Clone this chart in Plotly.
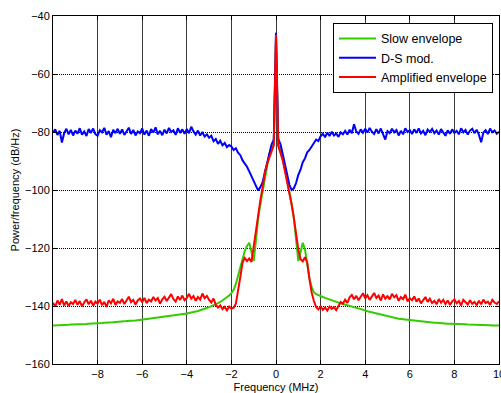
import numpy as np
import plotly.graph_objects as go

# Frequency grid (MHz), 0.1 MHz spacing from -10 to 10
freq_mhz = np.round(np.linspace(-10, 10, 201), 1)

# Power spectral densities (dB/Hz), one value per frequency bin
slow_envelope = [
    -146.7, -146.7, -146.6, -146.6, -146.6, -146.5, -146.5, -146.5, -146.4, -146.4,
    -146.4, -146.3, -146.3, -146.3, -146.2, -146.2, -146.1, -146.1, -146.0, -146.0,
    -146.0, -145.9, -145.9, -145.8, -145.8, -145.7, -145.7, -145.6, -145.5, -145.5,
    -145.4, -145.4, -145.3, -145.2, -145.2, -145.1, -145.0, -145.0, -144.9, -144.8,
    -144.7, -144.7, -144.6, -144.5, -144.4, -144.3, -144.2, -144.1, -144.0, -143.9,
    -143.8, -143.7, -143.6, -143.5, -143.4, -143.3, -143.1, -143.0, -142.9, -142.7,
    -142.6, -142.4, -142.3, -142.1, -141.9, -141.7, -141.5, -141.2, -141.0, -140.7,
    -140.4, -140.1, -139.8, -139.4, -139.0, -138.6, -138.1, -137.6, -137.0, -136.4,
    -135.6, -134.4, -132.4, -129.4, -126.2, -123.2, -121.0, -119.3, -118.2, -121.5,
    -124.5, -117.5, -109.8, -104.8, -100.3, -95.5, -91.8, -87.8, -85.8, -84.2,
    -47.0,
    -84.4, -86.2, -89.0, -92.8, -96.5, -100.5, -104.6, -109.5, -117.5, -124.5,
    -121.5, -118.2, -120.5, -126.0, -130.5, -133.5, -135.3, -135.9, -136.3, -136.6,
    -136.9, -137.2, -137.5, -137.8, -138.1, -138.4, -138.7, -138.9, -139.1, -139.3,
    -139.5, -139.8, -140.0, -140.2, -140.5, -140.7, -140.9, -141.1, -141.3, -141.5,
    -141.8, -142.0, -142.2, -142.4, -142.6, -142.8, -143.0, -143.2, -143.4, -143.6,
    -143.7, -143.9, -144.1, -144.2, -144.4, -144.5, -144.6, -144.7, -144.8, -144.9,
    -145.0, -145.1, -145.2, -145.3, -145.4, -145.4, -145.5, -145.6, -145.7, -145.7,
    -145.8, -145.8, -145.9, -145.9, -146.0, -146.0, -146.1, -146.1, -146.1, -146.2,
    -146.2, -146.2, -146.3, -146.3, -146.3, -146.4, -146.4, -146.4, -146.5, -146.5,
    -146.5, -146.5, -146.6, -146.6, -146.6, -146.6, -146.7, -146.7, -146.7, -146.7,
]

ds_mod = [
    -80.2, -79.1, -81.0, -79.6, -83.6, -80.4, -78.9, -80.8, -79.3, -81.2,
    -79.5, -80.6, -78.7, -80.9, -79.8, -81.4, -79.0, -80.3, -78.8, -80.7,
    -81.3, -79.4, -80.1, -78.6, -80.9, -79.7, -81.8, -79.2, -80.4, -78.9,
    -80.6, -79.1, -81.0, -79.9, -78.5, -80.7, -79.3, -81.2, -79.8, -80.4,
    -78.8, -80.9, -79.5, -81.3, -79.0, -80.2, -78.4, -80.8, -79.6, -81.1,
    -79.2, -80.5, -78.6, -80.0, -79.4, -81.0, -78.7, -80.3, -79.1, -80.6,
    -79.0, -80.4, -78.2, -79.8, -80.9, -79.5, -81.2, -80.0, -81.6, -80.8,
    -82.0, -81.3, -83.2, -82.4, -84.1, -83.0, -84.6, -83.8, -85.2, -84.5,
    -85.0, -86.2, -85.6, -87.1, -88.0, -89.8, -90.9, -92.0, -93.6, -95.4,
    -97.2, -98.4, -100.2, -99.0, -97.3, -94.0, -90.6, -87.2, -84.3, -82.6,
    -45.8,
    -82.4, -84.2, -87.6, -91.5, -95.3, -98.2, -100.0, -99.4, -97.6, -94.8,
    -93.0, -90.4, -89.1, -87.0, -86.2, -84.9, -84.0, -82.6, -83.1, -81.5,
    -80.6, -81.8, -80.2, -81.4, -79.9, -81.2, -80.5, -81.7, -80.1, -80.8,
    -79.6, -80.9, -79.2, -80.4, -77.3, -79.8, -80.6, -79.1, -80.3, -78.9,
    -80.2, -78.6, -79.9, -80.7, -79.0, -80.5, -78.8, -81.0, -82.6, -79.7,
    -80.4, -78.9, -80.1, -79.3, -81.2, -79.6, -80.8, -78.7, -80.0, -79.4,
    -80.7, -79.1, -80.3, -78.8, -80.5, -79.6, -81.1, -79.2, -80.0, -78.9,
    -80.4, -79.5, -80.9, -79.0, -80.2, -81.3, -79.4, -80.6, -79.1, -80.3,
    -79.6, -80.8, -78.7, -80.1, -79.3, -80.9, -79.5, -78.9, -80.4, -79.2,
    -81.0, -83.5, -80.2, -79.4, -80.7, -78.8, -80.1, -79.5, -80.6, -79.9,
]

amplified_envelope = [
    -138.9, -140.2, -138.1, -139.5, -137.6, -139.8, -138.4, -140.0, -138.7, -139.3,
    -137.9, -139.6, -138.3, -140.1, -138.8, -137.7, -139.4, -138.2, -139.9, -138.5,
    -139.2, -137.8, -139.7, -138.6, -140.3, -138.0, -139.1, -137.5, -139.6, -138.4,
    -138.9, -137.6, -139.3, -138.2, -136.8, -138.7, -137.9, -139.5, -138.1, -137.4,
    -138.6, -137.2, -139.0, -137.8, -138.4, -136.9, -138.1, -137.3, -139.2, -137.7,
    -136.8, -138.3, -137.1, -135.9, -137.6, -138.5, -136.7, -137.9, -136.4, -138.0,
    -137.2, -135.8, -137.5, -136.6, -138.2, -136.9, -137.8, -135.7, -137.3, -136.5,
    -137.9, -138.8, -137.4, -139.6, -140.5, -139.8, -141.1, -140.3, -141.5, -140.2,
    -140.9, -140.6, -139.2, -135.0, -130.0, -125.0, -123.4, -124.5, -123.6, -124.8,
    -119.5, -112.5, -108.0, -103.5, -99.0, -94.0, -91.0, -89.0, -86.8, -84.6,
    -46.5,
    -84.8, -87.2, -89.8, -93.5, -97.0, -101.2, -105.0, -109.6, -115.8, -120.5,
    -123.9, -124.6, -123.2, -124.9, -130.6, -135.4, -138.3, -140.4, -141.2, -140.1,
    -141.3, -140.5, -141.6, -140.2, -141.0, -140.4, -141.4, -139.8, -138.6, -139.2,
    -137.8, -138.9, -137.0, -136.2, -137.7, -136.5, -138.0, -136.8, -135.6, -137.4,
    -136.3, -137.9, -136.7, -135.5, -137.2, -136.4, -138.1, -136.0, -137.5, -136.6,
    -137.7, -135.8, -137.0, -136.3, -138.2, -136.9, -137.6, -136.1, -138.4, -137.3,
    -138.0, -136.7, -138.5, -137.4, -139.1, -137.8, -136.9, -138.6, -137.5, -139.0,
    -138.2, -139.4, -137.6, -138.9, -137.9, -139.3, -138.1, -139.6, -138.4, -137.7,
    -139.1, -138.3, -139.8, -137.9, -138.7, -139.5, -138.0, -139.2, -138.6, -139.7,
    -138.2, -139.4, -137.8, -139.0, -138.5, -139.6, -137.9, -138.8, -139.3, -138.4,
]

series_names = ["Slow envelope", "D-S mod.", "Amplified envelope"]
series_colors = ["#33cc00", "#0000ff", "#ff0000"]
series_values = [slow_envelope, ds_mod, amplified_envelope]

x_ticks = [-8, -6, -4, -2, 0, 2, 4, 6, 8, 10]
y_ticks = [-160, -140, -120, -100, -80, -60, -40]

fig = go.Figure()
for name, color, values in zip(series_names, series_colors, series_values):
    fig.add_trace(go.Scatter(
        x=freq_mhz, y=values, mode="lines", name=name,
        line=dict(color=color, width=2),
    ))

axis_common = dict(
    showline=True, linecolor="black", linewidth=1, mirror="ticks",
    ticks="inside", ticklen=4, tickcolor="black",
    showgrid=True, gridwidth=1,
    zeroline=False, automargin=False,
    tickfont=dict(family="Liberation Sans, Arial, sans-serif", size=11, color="black"),
)

fig.update_xaxes(
    range=[-10, 10], tickvals=x_ticks, ticklabeloverflow="allow",
    gridcolor="#3a3a3a", griddash="solid",
    title=dict(text="Frequency (MHz)", font=dict(size=11, color="black"), standoff=8),
    **axis_common,
)
fig.update_yaxes(
    range=[-160, -40], tickvals=y_ticks,
    gridcolor="#000000", griddash="1px,1px",
    title=dict(text="Power/frequency (dB/Hz)", font=dict(size=11, color="black"), standoff=3),
    **axis_common,
)

fig.update_layout(
    width=501, height=393,
    margin=dict(l=53, r=2, t=16, b=29),
    paper_bgcolor="white", plot_bgcolor="white",
    font=dict(family="Liberation Sans, Arial, sans-serif", color="black"),
    showlegend=True,
    legend=dict(
        x=0.9865, y=0.98, xanchor="right", yanchor="top",
        bgcolor="white", bordercolor="black", borderwidth=1,
        font=dict(size=12.5, color="black"),
        tracegroupgap=0, itemwidth=37,
    ),
)

fig.write_html("out.html")
